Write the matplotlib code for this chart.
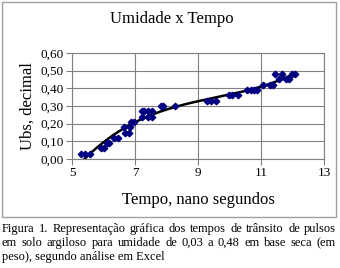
import numpy as np
import matplotlib
matplotlib.use('Agg')
import matplotlib.pyplot as plt
from matplotlib.patches import Rectangle

plt.rcParams['font.family'] = ['Liberation Serif', 'DejaVu Serif']

# tempo (ns) and umidade
tempo = [5.28, 5.42, 5.57, 5.92, 6.0, 6.1, 6.18, 6.34, 6.45,
         6.66, 6.69, 6.8, 6.85, 6.87, 6.97,
         7.22, 7.3, 7.22, 7.42, 7.42, 7.55, 7.53,
         7.82, 7.9, 8.26,
         9.3, 9.4, 9.56,
         9.98, 10.09, 10.28,
         10.56, 10.67, 10.77, 10.88,
         11.07, 11.3, 11.37,
         11.46, 11.67, 11.56, 11.78, 11.88, 11.97, 12.09]
umidade = [0.03, 0.03, 0.03, 0.06, 0.06, 0.09, 0.09, 0.12, 0.12,
           0.18, 0.15, 0.15, 0.18, 0.21, 0.21,
           0.27, 0.27, 0.24, 0.27, 0.24, 0.27, 0.24,
           0.30, 0.30, 0.30,
           0.33, 0.33, 0.33,
           0.36, 0.36, 0.36,
           0.39, 0.39, 0.39, 0.39,
           0.42, 0.42, 0.42,
           0.48, 0.48, 0.45, 0.45, 0.45, 0.48, 0.48]

x_ticks = [5, 7, 9, 11, 13]
y_ticks = [0.0, 0.1, 0.2, 0.3, 0.4, 0.5, 0.6]

caption_lines = [
    'Figura 1. Representação gráfica dos tempos de trânsito de pulsos',
    'em solo argiloso para umidade de 0,03 a 0,48 em base seca (em',
    'peso), segundo análise em Excel',
]

W, H = 340, 268
fig = plt.figure(figsize=(W / 100, H / 100), dpi=100)

# chart frame (Excel chart area)
fig.patches.append(Rectangle((1.5 / W, 1 - 217 / H), 334 / W, 215.5 / H,
                             transform=fig.transFigure, fill=False,
                             edgecolor='#a0a0a0', linewidth=1))

ax = fig.add_axes([72 / W, 1 - 159 / H, 252 / W, 106 / H])

# excel style polynomial trendline
coef = np.polyfit(tempo, umidade, 3)
xs = np.linspace(min(tempo), max(tempo), 200)
ax.plot(xs, np.polyval(coef, xs), color='black', linewidth=1.8, zorder=2)

ax.plot(tempo, umidade, linestyle='none', marker='D', markersize=3.3,
        color='#000080', zorder=3)

ax.set_xlim(5, 13)
ax.set_ylim(0, 0.6)
ax.set_xticks(x_ticks)
ax.set_yticks(y_ticks)
ax.set_xticklabels([str(t) for t in x_ticks])
ax.set_yticklabels([f'{t:.2f}'.replace('.', ',') for t in y_ticks])
ax.grid(True, color='#808080', linewidth=0.8)
ax.set_axisbelow(True)
for s in ax.spines.values():
    s.set_color('#808080')
    s.set_linewidth(0.8)
ax.tick_params(direction='out', length=4, width=0.8, color='#808080',
               labelsize=9.5, pad=2)

fig.text(172 / W, 1 - 19 / H, 'Umidade x Tempo', ha='center', va='center',
         fontsize=12)
fig.text(28 / W, 1 - 106 / H, 'Ubs, decimal', ha='center', va='center',
         rotation=90, fontsize=12)
fig.text(198 / W, 1 - 200 / H, 'Tempo, nano segundos', ha='center',
         va='center', fontsize=12)

# caption, justified like the original document
renderer = fig.canvas.get_renderer()
left, right = 2, 336
cap_size = 9
for i, line in enumerate(caption_lines):
    y = 1 - (229 + i * 14) / H
    words = line.split(' ')
    if i == len(caption_lines) - 1:
        fig.text(left / W, y, line, ha='left', va='center', fontsize=cap_size)
        continue
    objs = [fig.text(0, y, w, ha='left', va='center', fontsize=cap_size) for w in words]
    widths = [o.get_window_extent(renderer).width for o in objs]
    gap = (right - left - sum(widths)) / (len(words) - 1)
    pos = left
    for o, w in zip(objs, widths):
        o.set_x(pos / W)
        pos += w + gap

fig.savefig('out.png', dpi=100)
